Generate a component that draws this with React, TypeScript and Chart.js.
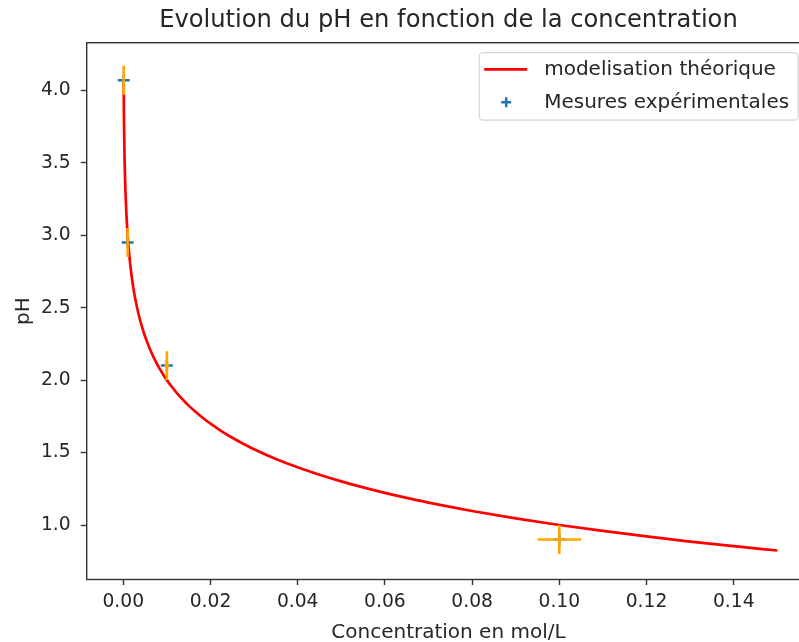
import { useEffect, useRef } from "react";
import { Chart, registerables } from "chart.js";

Chart.register(...registerables);

const FONT = '"DejaVu Sans", "Liberation Sans", sans-serif';
const TEXT_COLOR = "#262626";
const FRAME_COLOR = "#333333";

const TITLE = "Evolution du pH en fonction de la concentration";
const X_LABEL = "Concentration en mol/L";
const Y_LABEL = "pH";
const CURVE_LABEL = "modelisation théorique";
const MEAS_LABEL = "Mesures expérimentales";

// axis ranges and tick steps (the picture cuts the axes box just before its right edge)
const X_MIN = -0.00839;
const X_MAX = 0.15754;
const Y_MIN = 0.624;
const Y_MAX = 4.3285;
const X_STEP = 0.02;
const Y_STEP = 0.5;

// theoretical model curve (concentration, pH)
const curveC = [
  0.00009, 0.0001, 0.00015, 0.0002, 0.0003, 0.0004, 0.0005, 0.0007, 0.001, 0.0015,
  0.002, 0.0025, 0.003, 0.0035, 0.004, 0.0045, 0.005, 0.006, 0.007, 0.008, 0.009,
  0.01, 0.011, 0.0125, 0.014, 0.015, 0.0165, 0.0175, 0.019, 0.02, 0.0225, 0.025,
  0.0275, 0.03, 0.035, 0.04, 0.045, 0.05, 0.055, 0.06, 0.065, 0.07, 0.075, 0.08,
  0.09, 0.1, 0.11, 0.12, 0.13, 0.14, 0.15,
];
const curvePH = [
  4.05, 4.0, 3.82, 3.7, 3.52, 3.4, 3.3, 3.155, 3.0, 2.824,
  2.699, 2.602, 2.523, 2.456, 2.398, 2.347, 2.301, 2.222, 2.155, 2.097, 2.046,
  2.0, 1.959, 1.903, 1.854, 1.824, 1.783, 1.757, 1.721, 1.699, 1.648, 1.602,
  1.561, 1.523, 1.456, 1.398, 1.347, 1.301, 1.26, 1.222, 1.187, 1.155, 1.125, 1.097,
  1.046, 1.0, 0.959, 0.921, 0.886, 0.854, 0.824,
];

// experimental measurements with error bars
const measC = [0.0001, 0.001, 0.01, 0.1];
const measPH = [4.07, 2.95, 2.1, 0.9];
const errC = [0.000005, 0.00005, 0.0005, 0.005];
const errPH = [0.1, 0.1, 0.1, 0.1];

const RED = "#ff0000";
const BLUE = "#1f77b4";
const ORANGE = "#ffa500";

const overlayPlugin = {
  id: "overlay",
  afterDatasetsDraw(chart: any) {
    const { ctx, chartArea: a } = chart;
    ctx.save();
    ctx.strokeStyle = FRAME_COLOR;
    ctx.lineWidth = 1.4;
    ctx.strokeRect(a.left, a.top, a.right - a.left, a.bottom - a.top);
    ctx.restore();
  },
  afterDraw(chart: any) {
    const { ctx, chartArea: a } = chart;
    ctx.save();
    // title, centred on the axes box
    ctx.fillStyle = TEXT_COLOR;
    ctx.font = `24.2px ${FONT}`;
    ctx.textAlign = "center";
    ctx.textBaseline = "alphabetic";
    ctx.fillText(TITLE, (a.left + a.right) / 2, a.top - 16);

    // legend (upper right)
    const w = 319;
    const h = 67.5;
    const right = a.right - 12;
    const left = right - w;
    const top = a.top + 10;
    ctx.beginPath();
    (ctx as any).roundRect(left, top, w, h, 4);
    ctx.fillStyle = "rgba(255,255,255,0.8)";
    ctx.fill();
    ctx.strokeStyle = "#d6d6d6";
    ctx.lineWidth = 1.2;
    ctx.stroke();

    const y1 = top + 16.6;
    const y2 = top + 49.6;
    ctx.strokeStyle = RED;
    ctx.lineWidth = 2.7;
    ctx.beginPath();
    ctx.moveTo(left + 5, y1);
    ctx.lineTo(left + 48, y1);
    ctx.stroke();

    ctx.strokeStyle = BLUE;
    ctx.lineWidth = 2.5;
    const cx = left + 27;
    ctx.beginPath();
    ctx.moveTo(cx - 5, y2);
    ctx.lineTo(cx + 5, y2);
    ctx.moveTo(cx, y2 - 5);
    ctx.lineTo(cx, y2 + 5);
    ctx.stroke();

    ctx.fillStyle = TEXT_COLOR;
    ctx.font = `20px ${FONT}`;
    ctx.textAlign = "left";
    ctx.textBaseline = "middle";
    ctx.fillText(CURVE_LABEL, left + 65, y1);
    ctx.fillText(MEAS_LABEL, left + 65, y2);
    ctx.restore();
  },
};

export default function App() {
  const ref = useRef<HTMLCanvasElement | null>(null);

  useEffect(() => {
    if (!ref.current) return;

    const errorSets: any[] = [];
    measC.forEach((c, i) => {
      errorSets.push({
        type: "line",
        data: [
          { x: c, y: measPH[i] - errPH[i] },
          { x: c, y: measPH[i] + errPH[i] },
        ],
        borderColor: ORANGE,
        borderWidth: 2.6,
        pointRadius: 0,
        order: 0,
      });
      errorSets.push({
        type: "line",
        data: [
          { x: c - errC[i], y: measPH[i] },
          { x: c + errC[i], y: measPH[i] },
        ],
        borderColor: ORANGE,
        borderWidth: 2.6,
        pointRadius: 0,
        order: 0,
      });
    });

    const chart = new Chart(ref.current, {
      type: "line",
      data: {
        datasets: [
          ...errorSets,
          {
            type: "line",
            label: CURVE_LABEL,
            data: curveC.map((c, i) => ({ x: c, y: curvePH[i] })),
            borderColor: RED,
            borderWidth: 2.7,
            pointRadius: 0,
            cubicInterpolationMode: "monotone",
            order: 1,
          },
          {
            type: "scatter",
            label: MEAS_LABEL,
            data: measC.map((c, i) => ({ x: c, y: measPH[i] })),
            pointStyle: "cross",
            pointRadius: 6,
            borderColor: BLUE,
            backgroundColor: BLUE,
            pointBorderWidth: 2.5,
            borderWidth: 2.5,
            showLine: false,
            order: 2,
          },
        ] as any,
      },
      options: {
        animation: false,
        responsive: false,
        devicePixelRatio: 1,
        layout: { autoPadding: false, padding: { top: 42.7, right: 9.8, left: 0, bottom: 0 } },
        plugins: {
          legend: { display: false },
          title: { display: false },
          tooltip: { enabled: false },
        },
        scales: {
          x: {
            type: "linear",
            min: X_MIN,
            max: X_MAX,
            afterFit: (s: any) => {
              s.height = 62.5;
              s.paddingRight = 0;
              s.paddingLeft = 0;
            },
            border: { display: false },
            grid: {
              display: true,
              drawOnChartArea: false,
              drawTicks: true,
              tickLength: 5.5,
              tickColor: FRAME_COLOR,
              tickWidth: 1.4,
            },
            ticks: {
              stepSize: X_STEP,
              includeBounds: false,
              autoSkip: false,
              maxRotation: 0,
              padding: 6,
              color: TEXT_COLOR,
              font: { family: FONT, size: 18.7 },
              callback: (v: any) => Number(v).toFixed(2),
            },
            title: {
              display: true,
              text: X_LABEL,
              color: TEXT_COLOR,
              font: { family: FONT, size: 20, lineHeight: 0.85 },
              padding: { top: 0, bottom: 1 },
            },
          },
          y: {
            type: "linear",
            min: Y_MIN,
            max: Y_MAX,
            afterFit: (s: any) => {
              s.width = 86.7;
            },
            border: { display: false },
            grid: {
              display: true,
              drawOnChartArea: false,
              drawTicks: true,
              tickLength: 6,
              tickColor: FRAME_COLOR,
              tickWidth: 1.4,
            },
            ticks: {
              stepSize: Y_STEP,
              includeBounds: false,
              autoSkip: false,
              padding: 10,
              color: TEXT_COLOR,
              font: { family: FONT, size: 18.7 },
              callback: (v: any) => Number(v).toFixed(1),
            },
            title: {
              display: true,
              text: Y_LABEL,
              color: TEXT_COLOR,
              font: { family: FONT, size: 20 },
              padding: { top: 12, bottom: 0 },
            },
          },
        },
      } as any,
      plugins: [overlayPlugin],
    });

    return () => chart.destroy();
  }, []);

  return (
    <div
      style={{
        position: "fixed",
        left: 0,
        top: 0,
        width: 799,
        height: 642,
        overflow: "hidden",
        background: "#fff",
      }}
    >
      <canvas
        ref={ref}
        width={820}
        height={642}
        style={{ display: "block", width: 820, height: 642 }}
      />
    </div>
  );
}
